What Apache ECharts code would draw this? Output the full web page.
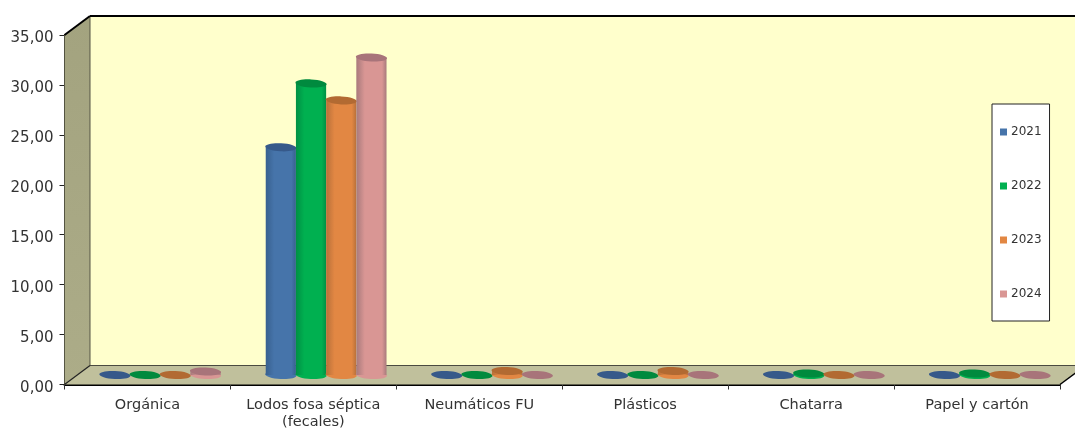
<!DOCTYPE html>
<html><head><meta charset="utf-8">
<style>html,body{margin:0;padding:0;background:#fff}#c{width:1075px;height:428px}</style>
<script src="https://cdn.jsdelivr.net/npm/echarts@6/dist/echarts.min.js"></script>
</head><body><div id="c"></div>
<script>
const categories = ['Orgánica', 'Lodos fosa séptica\n(fecales)', 'Neumáticos FU', 'Plásticos', 'Chatarra', 'Papel y cartón'];
const years = ['2021', '2022', '2023', '2024'];
const values2021 = [0, 22.8, 0, 0, 0, 0];
const values2022 = [0, 29.2, 0, 0, 0.15, 0.15];
const values2023 = [0, 27.5, 0.4, 0.4, 0, 0];
const values2024 = [0.35, 31.8, 0, 0, 0, 0];
const seriesValues = [values2021, values2022, values2023, values2024];
const colors = ['#4674aa', '#00b050', '#e28743', '#d99694'];
const darks = ['#36598a', '#008a3e', '#b26a32', '#a8747a'];
const edges = ['#38608f', '#009044', '#b8703a', '#a87a7c'];
const DX = 25.5, DY = 19;

const chart = echarts.init(document.getElementById('c'), null, {renderer: 'canvas'});
function poly(points, fill, stroke, lw) {
  return {type: 'polygon', shape: {points}, style: {fill, stroke: stroke || 'none', lineWidth: lw || 0}, silent: true};
}
function line(x1, y1, x2, y2, stroke, lw) {
  return {type: 'line', shape: {x1, y1, x2, y2}, style: {stroke, lineWidth: lw}, silent: true};
}
function renderFrame(params) {
  const c = params.coordSys, l = c.x, t = c.y, r = c.x + c.width, b = c.y + c.height;
  return {type: 'group', children: [
    poly([[l + DX, t - DY], [r + DX, t - DY], [r + DX, b - DY], [l + DX, b - DY]], '#ffffcc'),
    poly([[l, t], [l + DX, t - DY], [l + DX, b - DY], [l, b]], {type: 'linear', x: 0, y: 0, x2: 0, y2: 1, colorStops: [{offset: 0, color: '#a3a37f'}, {offset: 1, color: '#acac88'}]}),
    poly([[l, b], [l + DX, b - DY], [r + DX, b - DY], [r, b]], '#c0c09c'),
    line(l + DX, t - DY, l + DX, b - DY, '#555544', 1),
    line(l + DX, b - DY, r + DX, b - DY, '#4a4a40', 1),
    line(l, b, l + DX, b - DY, '#222', 1.2),
    line(l, t, l + DX, t - DY, '#000', 2),
    line(l + DX, t - DY, r + DX, t - DY, '#000', 2),
    line(r, b, r + DX, b - DY, '#000', 1.5)
  ]};
}
function renderBar(params, api) {
  const i = params.seriesIndex - 1;
  const band = api.size([1, 0])[0];
  const w = band * 0.182;
  const top = api.coord([api.value(0), api.value(1)]);
  const base = api.coord([api.value(0), 0]);
  const cx = base[0] + DX / 2 + (i - 1.5) * w;
  const yb = base[1] - DY / 2, yt = top[1] - DY / 2;
  const rx = w / 2 + 0.5, ry = 4, rot = -0.05;
  const kids = [];
  const ell = (y, fill) => ({type: 'ellipse', x: cx, y, rotation: rot, shape: {cx: 0, cy: 0, rx, ry}, style: {fill}, silent: true});
  if (yb - yt > 0.5) {
    kids.push(ell(yb, colors[i]));
    kids.push({type: 'rect', shape: {x: cx - w / 2, y: yt, width: w, height: yb - yt}, silent: true,
      style: {fill: {type: 'linear', x: 0, y: 0, x2: 1, y2: 0, colorStops: [
        {offset: 0, color: edges[i]}, {offset: 0.28, color: colors[i]}, {offset: 0.85, color: colors[i]}, {offset: 1, color: edges[i]}]}}});
  }
  kids.push(ell(yt, darks[i]));
  return {type: 'group', children: kids};
}
const barSeries = years.map((y, i) => ({
  name: y, type: 'custom', renderItem: renderBar, clip: false, z: 3,
  itemStyle: {color: colors[i]},
  encode: {x: 0, y: 1},
  data: seriesValues[i].map((v, k) => [k, v])
}));
chart.setOption({
  animation: false,
  backgroundColor: '#ffffff',
  textStyle: {fontFamily: '"DejaVu Sans", sans-serif'},
  grid: {left: 64.5, right: 15, top: 35, bottom: 43.5, containLabel: false, outerBoundsMode: 'none'},
  legend: {
    data: years, orient: 'vertical', left: 992, top: 104, width: 57, height: 217,
    padding: [21, 8, 20, 8], itemWidth: 7, itemHeight: 7, itemGap: 40, icon: 'rect',
    backgroundColor: '#ffffff', borderColor: '#222', borderWidth: 1, borderRadius: 0,
    selectedMode: false, z: 10,
    textStyle: {fontSize: 12, color: '#333', padding: [0, 0, 0, -1], lineHeight: 14}
  },
  xAxis: {
    type: 'category', data: categories,
    axisLine: {show: true, lineStyle: {color: '#000', width: 2}},
    axisTick: {show: true, length: 5, alignWithLabel: false, lineStyle: {color: '#333', width: 1}},
    axisLabel: {color: '#333', fontSize: 14.5, margin: 12, interval: 0, lineHeight: 17},
    splitLine: {show: false}
  },
  yAxis: {
    type: 'value', min: 0, max: 35, interval: 5,
    axisLine: {show: true, lineStyle: {color: '#000', width: 2}},
    axisTick: {show: true, length: 5, lineStyle: {color: '#222', width: 1}},
    axisLabel: {color: '#333', fontSize: 15, margin: 11, verticalAlign: 'top', lineHeight: 7, formatter: v => v.toFixed(2).replace('.', ',')},
    splitLine: {show: false}
  },
  series: [{name: 'frame', type: 'custom', renderItem: renderFrame, clip: false, z: 1, silent: true, data: [[0, 0]], encode: {x: 0, y: 1}}].concat(barSeries)
});
</script></body></html>
